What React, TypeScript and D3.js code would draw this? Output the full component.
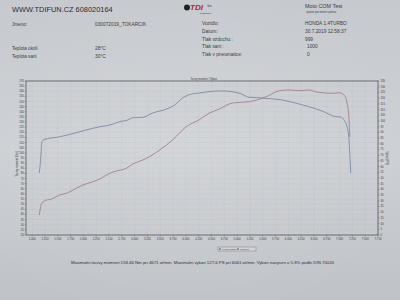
import React from "react";
import * as d3 from "d3";

const rpmTorque = [1139, 1172, 1186, 1217, 1250, 1542, 1931, 2320, 2515, 2709, 2865, 2962, 3157, 3351, 3624, 3780, 3935, 4110, 4266, 4519, 4671, 4908, 5083, 5239, 5375, 5570, 5881, 6017, 6212, 6406, 6659, 6926, 7023, 7088, 7146, 7185, 7205, 7218];
const torqueNm = [80.4, 97.9, 109.6, 112.5, 113.2, 115.7, 120.6, 125.5, 127.1, 130.4, 132.0, 134.2, 134.6, 138.8, 142.7, 146.6, 153.4, 157.3, 158.3, 160.0, 160.3, 159.6, 157.4, 154.1, 153.9, 153.0, 151.5, 150.0, 147.6, 144.9, 140.8, 135.2, 134.9, 132.0, 125.2, 112.5, 93.0, 80.4];

const rpmPower = [1139, 1162, 1186, 1283, 1347, 1542, 1672, 1867, 1989, 2184, 2320, 2515, 2645, 2840, 2962, 3157, 3229, 3488, 3741, 4007, 4266, 4461, 4655, 4908, 5239, 5375, 5570, 5823, 6017, 6212, 6406, 6542, 6854, 6990, 7088, 7146, 7185, 7199];
const powerPS = [17.5, 23.7, 27.8, 30.7, 31.1, 35.1, 36.6, 41.2, 43.8, 46.7, 49.1, 54.1, 56.1, 58.5, 62.2, 65.7, 67.2, 74.5, 83.3, 94.9, 101.2, 106.9, 110.5, 115.7, 116.9, 118.3, 121.2, 126.5, 127.1, 126.5, 127.1, 125.4, 124.2, 124.7, 122.7, 115.7, 100.8, 85.9];

const xTicks = d3.range(1000, 7751, 250);
const leftTicks = d3.range(20, 171, 5);
const rightTicks = d3.range(0, 136, 5);

const headerLeftLabels = ["Jmeno:", "Teplota okoli", "Teplota sani"];
const headerLeftValues = ["030072019_TOKARCIK", "28°C", "30°C"];
const headerRightLabels = ["Vozidlo:", "Datum:", "Tlak vzduchu :", "Tlak sani :", "Tlak v pneumatice:"];
const headerRightValues = ["HONDA 1.4TURBO", "30.7.2019 12:58:37", "999", "1000", "0"];

const footer = "Maximalni tocivy moment 158.46 Nm pri 4671 ot/min.  Maximalni vykon 127.6 PS pri 6061 ot/min.  Vykon navysen o 5.8% podle DIN 70020";

export default function App() {
  const L = 26, R = 378, T = 81, B = 235;
  const x = d3.scaleLinear().domain([880, 7750]).range([L, R]);
  const yL = d3.scaleLinear().domain([20, 170]).range([B, T]);
  const yR = d3.scaleLinear().domain([0, 135]).range([B, T]);
  const fmt = (v: number) => d3.format(",")(v).replace(",", ".");

  const tData = rpmTorque.map((r, i) => [r, torqueNm[i]] as [number, number]);
  const pData = rpmPower.map((r, i) => [r, powerPS[i]] as [number, number]);
  const lineT = d3.line<[number, number]>().x(d => x(d[0])).y(d => yL(d[1])).curve(d3.curveMonotoneX);
  const lineP = d3.line<[number, number]>().x(d => x(d[0])).y(d => yR(d[1])).curve(d3.curveMonotoneX);

  const font = "Liberation Sans, Arial, sans-serif";
  const ink = "#3a3c42";

  return (
    <svg width={400} height={300} style={{ position: "absolute", left: 0, top: 0 }} fontFamily={font}>
      <defs>
        <linearGradient id="paper" x1="0" y1="0" x2="0" y2="1">
          <stop offset="0" stopColor="#c6c9ce" />
          <stop offset="0.5" stopColor="#cdd0d4" />
          <stop offset="1" stopColor="#bfc2c7" />
        </linearGradient>
        <radialGradient id="shine" cx="0.45" cy="0.5" r="0.6">
          <stop offset="0" stopColor="#ffffff" stopOpacity="0.12" />
          <stop offset="1" stopColor="#ffffff" stopOpacity="0" />
        </radialGradient>
      </defs>
      <rect width={400} height={300} fill="url(#paper)" />
      <rect width={400} height={300} fill="url(#shine)" />

      {/* header */}
      <text x={12} y={12} fontSize={7.4} fill="#2a2c32">WWW.TDIFUN.CZ 608020164</text>
      {headerLeftLabels.map((t, i) => (
        <text key={t} x={12} y={[26, 49.5, 57.5][i]} fontSize={4.6} fill={ink}>{t}</text>
      ))}
      {headerLeftValues.map((t, i) => (
        <text key={t} x={95} y={[26, 49.5, 57.5][i]} fontSize={4.8} fill={ink}>{t}</text>
      ))}
      <circle cx={187} cy={7.5} r={3} fill="#222" />
      <text x={190} y={10} fontSize={8} fontWeight="bold" fontStyle="italic" fill="#b0262e">TDI</text>
      <text x={207.5} y={6.5} fontSize={3} fill="#333">fun</text>
      <text x={200} y={14.2} fontSize={2.3} fill="#333">motorsport</text>
      <text x={305} y={8} fontSize={5.4} fill={ink}>Moto COM Test</text>
      <text x={306} y={12.6} fontSize={2.6} fill={ink}>system pro mereni vykonu</text>
      {headerRightLabels.map((t, i) => (
        <text key={t} x={202} y={25.3 + i * 7.7} fontSize={4.8} fill={ink}>{t}</text>
      ))}
      {headerRightValues.map((t, i) => (
        <text key={t} x={i < 3 ? 305 : 307} y={25.3 + i * 7.7} fontSize={4.8} fill={ink}>{t}</text>
      ))}

      {/* grid */}
      {xTicks.map(v => (
        <line key={"gx" + v} x1={x(v)} x2={x(v)} y1={T} y2={B} stroke="#9aa0a8" strokeOpacity={0.22} strokeWidth={0.4} />
      ))}
      {leftTicks.map(v => (
        <line key={"gy" + v} x1={L} x2={R} y1={yL(v)} y2={yL(v)} stroke="#9aa0a8" strokeOpacity={0.2} strokeWidth={0.4} />
      ))}

      {/* frame */}
      <rect x={L} y={T} width={R - L} height={B - T} fill="none" stroke="#55575e" strokeWidth={0.8} />

      {/* curves */}
      <path d={lineT(tData) || ""} fill="none" stroke="#74809f" strokeWidth={0.8} />
      <path d={lineP(pData) || ""} fill="none" stroke="#a27483" strokeWidth={0.8} />

      {/* left axis */}
      {leftTicks.map(v => (
        <g key={"l" + v}>
          <line x1={L - 1.5} x2={L} y1={yL(v)} y2={yL(v)} stroke="#55575e" strokeWidth={0.4} />
          <text x={L - 2.2} y={yL(v) + 1} fontSize={2.8} textAnchor="end" fill={ink}>{v}</text>
        </g>
      ))}
      <text transform={`translate(17.5,164) rotate(-90)`} fontSize={2.8} textAnchor="middle" fill={ink}>Tocivy moment [Nm]</text>

      {/* right axis */}
      {rightTicks.map(v => (
        <g key={"r" + v}>
          <line x1={R} x2={R + 1.5} y1={yR(v)} y2={yR(v)} stroke="#55575e" strokeWidth={0.4} />
          <text x={R + 2.5} y={yR(v) + 1} fontSize={2.8} fill={ink}>{v}</text>
        </g>
      ))}
      <text transform={`translate(386,158) rotate(90)`} fontSize={2.8} textAnchor="middle" fill={ink}>Vykon [PS]</text>

      {/* x axis */}
      {xTicks.map(v => (
        <g key={"x" + v}>
          <line x1={x(v)} x2={x(v)} y1={B} y2={B + 1.5} stroke="#55575e" strokeWidth={0.4} />
          <text x={x(v)} y={B + 5} fontSize={2.8} textAnchor="middle" fill={ink}>{fmt(v)}</text>
        </g>
      ))}

      {/* small label above chart */}
      <text x={217} y={79.5} fontSize={2.6} textAnchor="end" fill={ink}>Tocivy moment / Vykon</text>

      {/* legend box */}
      <rect x={218} y={247} width={38} height={4} fill="#d2d4d8" stroke="#6a6c72" strokeWidth={0.4} />
      <rect x={219} y={248.2} width={2} height={1.6} fill="#74809f" />
      <text x={222} y={250} fontSize={2.4} fill={ink}>Vykon motoru</text>
      <rect x={237} y={248.2} width={2} height={1.6} fill="#a27483" />
      <text x={240} y={250} fontSize={2.4} fill={ink}>Moment</text>

      {/* footer */}
      <text x={71} y={263.5} fontSize={4.1} textLength={263} lengthAdjust="spacingAndGlyphs" fill="#2e3036">{footer}</text>
    </svg>
  );
}
